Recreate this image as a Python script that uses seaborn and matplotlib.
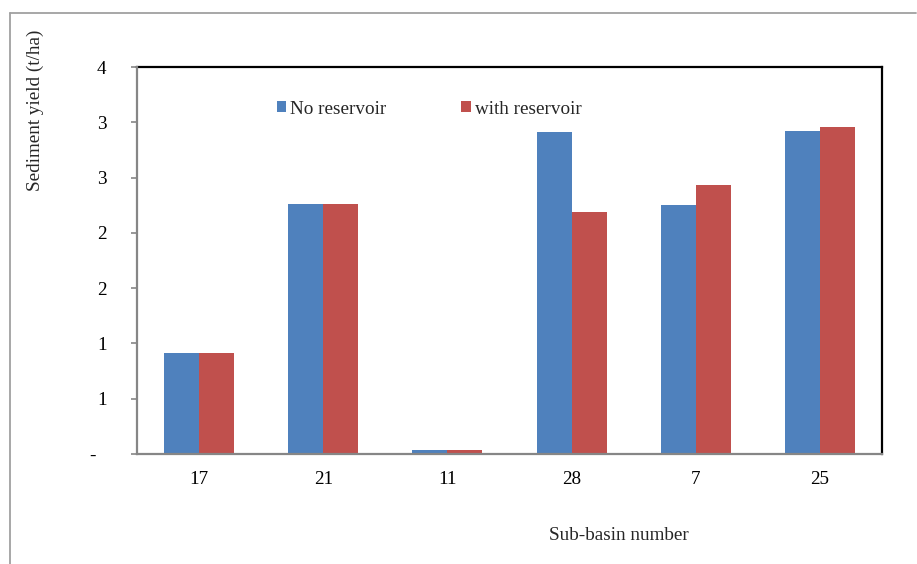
import numpy as np
import pandas as pd
import matplotlib
matplotlib.use("Agg")
import matplotlib.pyplot as plt
from matplotlib.lines import Line2D
from matplotlib.patches import Patch
from matplotlib.ticker import FuncFormatter, MultipleLocator
import seaborn as sns

# Sub-basins and sediment yields (t/ha)
basins = ["17", "21", "11", "28", "7", "25"]
no_reservoir = [0.91, 2.26, 0.036, 2.91, 2.25, 2.92]
with_reservoir = [0.91, 2.26, 0.036, 2.19, 2.43, 2.96]
series_names = ["No reservoir", "with reservoir"]
colors = ["#4F81BD", "#C0504D"]

df = pd.DataFrame({
    "basin": basins * 2,
    "value": no_reservoir + with_reservoir,
    "series": [series_names[0]] * len(basins) + [series_names[1]] * len(basins),
})

sns.set_theme(style="white")
plt.rcParams["font.family"] = ["Liberation Serif", "DejaVu Serif"]
FS = 13.8

fig = plt.figure(figsize=(9.17, 5.64), dpi=100)
ax = fig.add_axes([137 / 917, 1 - 454 / 564, (882 - 137) / 917, (454 - 67) / 564])

sns.barplot(data=df, x="basin", y="value", hue="series", order=basins,
            hue_order=series_names, palette=colors, width=0.565, gap=0,
            saturation=1, edgecolor="none", legend=False, ax=ax)

ax.set_ylim(0, 3.5)
ax.set_xlim(-0.5, len(basins) - 0.5)
ax.yaxis.set_major_locator(MultipleLocator(0.5))


def excel_fmt(v, pos):
    if abs(v) < 1e-9:
        return "-  "
    return f"{int(np.floor(v + 0.5))}"


ax.yaxis.set_major_formatter(FuncFormatter(excel_fmt))
ax.set_xlabel("")
ax.set_ylabel("")

ax.tick_params(axis="y", left=True, length=4, width=1.2, color="#868686",
               pad=18, labelsize=FS, labelcolor="black")
ax.tick_params(axis="x", bottom=False, length=0, pad=12.5, labelsize=FS,
               labelcolor="black")

for side in ["top", "right"]:
    ax.spines[side].set_color("black")
    ax.spines[side].set_linewidth(1.6)
for side in ["left", "bottom"]:
    ax.spines[side].set_color("#868686")
    ax.spines[side].set_linewidth(1.6)
    ax.spines[side].set_zorder(5)

handles = [Patch(facecolor=c, edgecolor="none") for c in colors]
fig.legend(handles, series_names, loc="center", ncol=2, frameon=False,
           bbox_to_anchor=(429 / 917, 1 - 109 / 564), fontsize=FS,
           handlelength=0.5, handleheight=0.5, handletextpad=0.2,
           columnspacing=3.9)

fig.text(35 / 917, 1 - 110 / 564, "Sediment yield (t/ha)", rotation=90,
         ha="center", va="center", fontsize=FS)
fig.text(619 / 917, 1 - 535 / 564, "Sub-basin number", ha="center",
         va="center", fontsize=FS)

# Outer chart-area border (top and left edges)
fig.add_artist(Line2D([10 / 917, 916 / 917], [1 - 13 / 564, 1 - 13 / 564],
                      transform=fig.transFigure, color="#A0A0A0", lw=1.3))
fig.add_artist(Line2D([10 / 917, 10 / 917], [1 - 13 / 564, 0],
                      transform=fig.transFigure, color="#A0A0A0", lw=1.3))

fig.savefig("out.png", dpi=100, facecolor="white")
